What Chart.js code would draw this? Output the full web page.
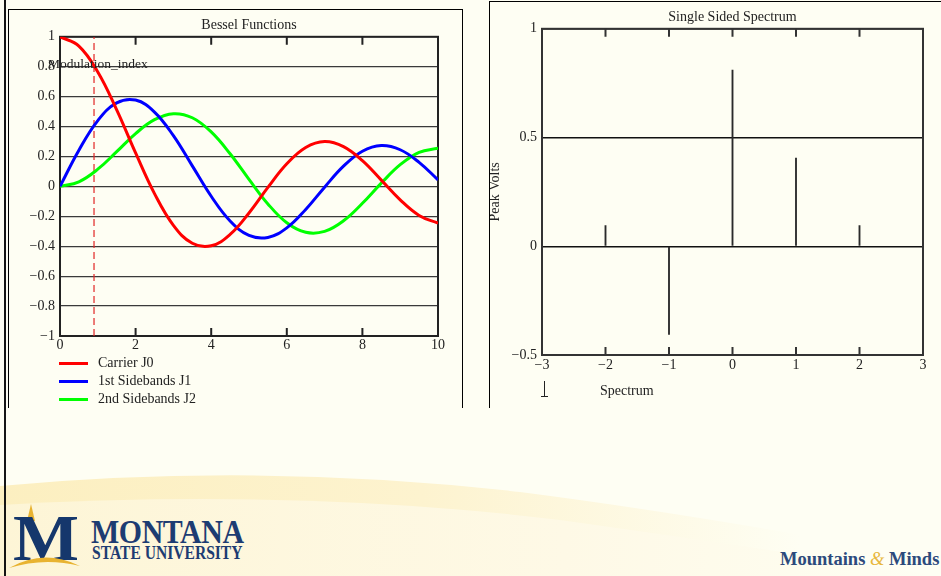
<!DOCTYPE html>
<html lang="en">
<head>
    <meta charset="UTF-8">
    <script src="https://cdn.jsdelivr.net/npm/chart.js"></script>
    <title>Bessel Functions</title>
    <style>
        body { margin: 0; width: 941px; height: 576px; overflow: hidden; position: relative;
               background: #fefef3; font-family: "Liberation Serif", serif; color: #222; }
        .abs { position: absolute; }
        #bar { left: 4px; top: 0; width: 2px; height: 576px; background: #151515; }
        #pl { left: 8px; top: 9px; width: 453px; height: 398px; border: 1px solid #000; border-bottom: none; }
        #pr { left: 489px; top: 1px; width: 470px; height: 406px; border: 1px solid #000; border-bottom: none; }
        #cl { left: 9px; top: 10px; width: 453px; height: 397px; }
        #cr { left: 490px; top: 2px; width: 451px; height: 405px; }
        #legend { left: 59px; top: 354px; font-size: 14px; }
        #legend div { height: 18px; line-height: 18px; display: flex; align-items: center; }
        #legend span.ln { display: inline-block; width: 29px; height: 3px; margin-right: 10px; }
        #mod { left: 48px; top: 56px; font-size: 13.5px; line-height: 16px; }
        #spec { left: 600px; top: 383px; font-size: 14px; line-height: 16px; }
        #mark { left: 544px; top: 381px; width: 1px; height: 15px; background: #222; }
        #mark2 { left: 541px; top: 396px; width: 7px; height: 1px; background: #222; }
        #montana { left: 91px; top: 515px; font-size: 34px; font-weight: bold; color: #1d3c72;
                   transform: scaleX(0.88); transform-origin: left top; line-height: 34px; letter-spacing: -0.5px; }
        #msu { left: 92px; top: 543px; font-size: 19px; font-weight: bold; color: #1d3c72;
               transform: scaleX(0.82); transform-origin: left top; line-height: 19px; }
        #mm { left: 780px; top: 549px; font-size: 18.5px; font-weight: bold; color: #2c4a7c; white-space: nowrap; }
        #mm b { color: #e8b83e; font-weight: normal; font-style: italic; }
    </style>
</head>
<body>
    <svg class="abs" style="left:0;top:0" width="941" height="576">
        <defs>
            <linearGradient id="sw" x1="0" y1="0" x2="1" y2="0">
                <stop offset="0" stop-color="#fcefc0"/>
                <stop offset="0.45" stop-color="#fdf3cf"/>
                <stop offset="0.85" stop-color="#fefef3"/>
            </linearGradient>
            <linearGradient id="sw2" x1="0" y1="0" x2="1" y2="0">
                <stop offset="0" stop-color="#fdf5d6"/>
                <stop offset="0.6" stop-color="#fef9e6"/>
                <stop offset="1" stop-color="#fefef3"/>
            </linearGradient>
        </defs>
        <path d="M0,486 Q260,462 520,492 Q700,515 941,560 L941,576 L0,576 Z" fill="url(#sw)"/>
        <path d="M0,505 Q300,488 560,520 Q740,545 941,576 L0,576 Z" fill="url(#sw2)"/>
        <path d="M31,504 L35,521 L27,521 Z" fill="#e8b331"/>
        <text x="13" y="560" font-family="Liberation Serif" font-weight="bold" font-size="66" fill="#15376c" textLength="66" lengthAdjust="spacingAndGlyphs">M</text>
        <path d="M9,568 Q44,548 80,566 Q44,557 9,568 Z" fill="#e8b331"/>
    </svg>
    <div id="bar" class="abs"></div>
    <div id="pl" class="abs"></div>
    <div id="pr" class="abs"></div>
    <div id="cl" class="abs"><canvas id="bessel"></canvas></div>
    <div id="cr" class="abs"><canvas id="spectrum"></canvas></div>
    <div id="legend" class="abs"></div>
    <div id="mod" class="abs">Modulation_index</div>
    <div id="spec" class="abs">Spectrum</div>
    <div id="mark" class="abs"></div>
    <div id="mark2" class="abs"></div>
    <div id="montana" class="abs">MONTANA</div>
    <div id="msu" class="abs">STATE UNIVERSITY</div>
    <div id="mm" class="abs">Mountains <b>&amp;</b> Minds</div>
    <script>
        // values
        const besselX = [0, 0.5, 1, 1.5, 2, 2.5, 3, 3.5, 4, 4.5, 5, 5.5, 6, 6.5, 7, 7.5, 8, 8.5, 9, 9.5, 10];
        const carrierJ0 = [1, 0.938, 0.765, 0.512, 0.224, -0.048, -0.260, -0.380, -0.397, -0.321, -0.178, -0.007,
                           0.151, 0.260, 0.300, 0.266, 0.172, 0.042, -0.090, -0.194, -0.246];
        const sideband1 = [0, 0.242, 0.440, 0.558, 0.577, 0.497, 0.339, 0.137, -0.066, -0.231, -0.328, -0.341,
                           -0.277, -0.154, -0.005, 0.135, 0.235, 0.273, 0.245, 0.161, 0.044];
        const sideband2 = [0, 0.031, 0.115, 0.232, 0.353, 0.446, 0.486, 0.459, 0.364, 0.218, 0.047, -0.117,
                           -0.243, -0.307, -0.301, -0.230, -0.113, 0.022, 0.145, 0.228, 0.255];
        const modulationIndex = 0.9;
        const besselXTicks = [0, 2, 4, 6, 8, 10];
        const besselYTicks = [-1, -0.8, -0.6, -0.4, -0.2, 0, 0.2, 0.4, 0.6, 0.8, 1];

        const spectrumFreq = [-2, -1, 0, 1, 2];
        const spectrumVolts = [0.095, -0.405, 0.81, 0.405, 0.095];
        const spectrumXTicks = [-3, -2, -1, 0, 1, 2, 3];
        const spectrumYTicks = [-0.5, 0, 0.5, 1];

        Chart.defaults.font.family = '"Liberation Serif", serif';
        Chart.defaults.font.size = 14;
        Chart.defaults.color = '#222';

        const fmt = v => String(Math.round(v * 10) / 10).replace('-', '\u2212');
        const setTicks = arr => scale => { scale.ticks = arr.map(v => ({value: v})); };
        const pts = ys => besselX.map((x, i) => ({x: x, y: ys[i]}));

        // plot box with inward tick marks, like the original worksheet
        const framePlugin = {
            id: 'frame',
            beforeDatasetsDraw(chart, args, opts) {
                const {ctx, chartArea: a, scales: {x}} = chart;
                ctx.save();
                ctx.strokeStyle = opts.color;
                ctx.lineWidth = opts.width;
                ctx.strokeRect(a.left, a.top, a.width, a.height);
                x.ticks.forEach(t => {
                    const px = x.getPixelForValue(t.value);
                    ctx.beginPath();
                    ctx.moveTo(px, a.top);
                    ctx.lineTo(px, a.top + opts.tick);
                    ctx.moveTo(px, a.bottom);
                    ctx.lineTo(px, a.bottom - opts.tick);
                    ctx.stroke();
                });
                ctx.restore();
            }
        };

        const bessel = new Chart(document.getElementById('bessel'), {
            type: 'line',
            data: {
                datasets: [
                    {label: 'Carrier J0', data: pts(carrierJ0), borderColor: '#ff0000'},
                    {label: '1st Sidebands J1', data: pts(sideband1), borderColor: '#0000ff'},
                    {label: '2nd Sidebands J2', data: pts(sideband2), borderColor: '#00ff00'},
                    {data: [{x: modulationIndex, y: -1}, {x: modulationIndex, y: 1}],
                     borderColor: '#e02424', borderWidth: 1.2, borderDash: [7, 4], tension: 0}
                ]
            },
            options: {
                responsive: true,
                maintainAspectRatio: false,
                animation: false,
                layout: {padding: {left: 0, right: 24, top: 0, bottom: 51}},
                elements: {point: {radius: 0}, line: {borderWidth: 3, tension: 0.4}},
                scales: {
                    x: {
                        type: 'linear', min: 0, max: 10,
                        afterBuildTicks: setTicks(besselXTicks),
                        afterFit: s => { s.height = 20; },
                        grid: {display: false, drawTicks: false},
                        border: {display: false},
                        ticks: {padding: 1, callback: fmt, maxRotation: 0, autoSkip: false}
                    },
                    y: {
                        min: -1, max: 1,
                        afterBuildTicks: setTicks(besselYTicks),
                        afterFit: s => { s.width = 51; },
                        grid: {color: '#3a3a3a', lineWidth: 1.2, drawTicks: false},
                        border: {display: false},
                        ticks: {padding: 5, callback: fmt, autoSkip: false}
                    }
                },
                plugins: {
                    legend: {display: false},
                    tooltip: {enabled: false},
                    title: {display: true, text: 'Bessel Functions', fullSize: false,
                            padding: {top: 7, bottom: 3}, font: {size: 14, weight: 'normal'}, color: '#222'},
                    frame: {color: '#222', width: 2, tick: 8}
                }
            },
            plugins: [framePlugin]
        });

        // legend under the left plot
        const legend = document.getElementById('legend');
        bessel.data.datasets.filter(d => d.label).forEach(d => {
            const row = document.createElement('div');
            row.innerHTML = '<span class="ln" style="background:' + d.borderColor + '"></span>' + d.label;
            legend.appendChild(row);
        });

        new Chart(document.getElementById('spectrum'), {
            type: 'bar',
            data: {
                datasets: [{
                    label: 'Peak Volts',
                    data: spectrumFreq.map((f, i) => ({x: f, y: spectrumVolts[i]})),
                    backgroundColor: '#2a2a2a',
                    barThickness: 1.2,
                    borderWidth: 0
                }]
            },
            options: {
                responsive: true,
                maintainAspectRatio: false,
                animation: false,
                layout: {padding: {left: 0, right: 18, top: 0, bottom: 32}},
                scales: {
                    x: {
                        type: 'linear', min: -3, max: 3, offset: false,
                        afterBuildTicks: setTicks(spectrumXTicks),
                        afterFit: s => { s.height = 20; },
                        grid: {display: false, drawTicks: false, offset: false},
                        border: {display: false},
                        ticks: {padding: 2, callback: fmt, maxRotation: 0, autoSkip: false}
                    },
                    y: {
                        min: -0.5, max: 1,
                        afterBuildTicks: setTicks(spectrumYTicks),
                        afterFit: s => { s.width = 52; },
                        grid: {color: '#111', lineWidth: 1.5, drawTicks: false},
                        border: {display: false},
                        ticks: {padding: 5, callback: fmt, autoSkip: false},
                        title: {display: true, text: 'Peak Volts', color: '#222',
                                font: {size: 14, lineHeight: 1}, padding: {top: -2, bottom: 0}}
                    }
                },
                plugins: {
                    legend: {display: false},
                    tooltip: {enabled: false},
                    title: {display: true, text: 'Single Sided Spectrum', fullSize: false,
                            padding: {top: 7, bottom: 3}, font: {size: 14, weight: 'normal'}, color: '#222'},
                    frame: {color: '#333', width: 2, tick: 8}
                }
            },
            plugins: [framePlugin]
        });
    </script>
</body>
</html>
